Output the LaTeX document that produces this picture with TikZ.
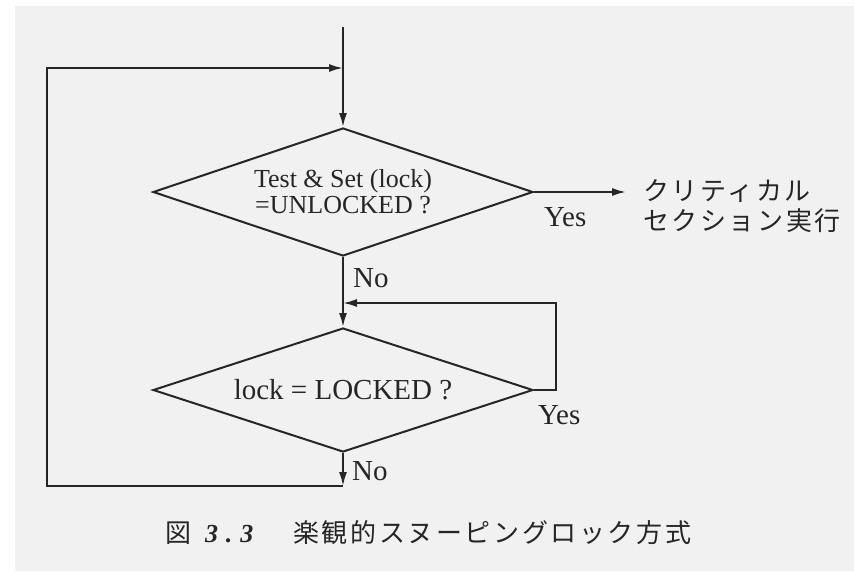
\documentclass[tikz,border=0pt]{standalone}
\usepackage{fontspec}
\setmainfont{Liberation Serif}
\newfontfamily\jpfont{Noto Sans CJK JP}[LetterSpace=10]
\usetikzlibrary{shapes.geometric, arrows.meta, positioning}
\definecolor{page}{RGB}{241,241,241}
\definecolor{ink}{RGB}{38,38,38}

\begin{document}
\begin{tikzpicture}[x=1pt, y=-1pt,
    flow/.style={draw=ink, line width=2pt},
    arr/.style={flow, -{Latex[length=14pt,width=8pt]}},
    decision/.style={diamond, aspect=3, draw=ink, line width=2pt, minimum width=380pt,
                     minimum height=128pt, inner sep=0pt, align=center, text=ink},
    lbl/.style={inner sep=0pt, text=ink, font=\fontsize{29}{29}\selectfont}]
  \useasboundingbox (0,0) rectangle (854,571);
  \fill[white] (0,0) rectangle (854,571);
  \fill[page] (15,6) rectangle (854,571);

  \node[decision, font=\fontsize{26}{26}\selectfont] (test) at (343,192) {Test \& Set (lock)\\=UNLOCKED ?};
  \node[decision, minimum height=124pt, font=\fontsize{29}{29}\selectfont] (check) at (343,390) {lock = LOCKED ?};

  \coordinate (entry) at (343,27);
  \coordinate (join1) at (343,68);
  \coordinate (yesend) at (626,192);
  \coordinate (join2) at (343,303);
  \coordinate (spin) at (556,303);
  \coordinate (bottom) at (343,486);
  \coordinate (cornertop) at (47,68);

  \draw[flow] (entry) -- (join1);
  \draw[arr] (join1) -- (test.north);
  \draw[arr] (test.east) -- (yesend);
  \draw[arr] (test.south) -- (check.north);
  \draw[arr] (check.east) -| (spin) -- (join2);
  \draw[arr] (check.south) -- (bottom);
  \draw[arr] (bottom) -| (cornertop) -- (join1);

  \node[lbl, below right=11pt and 10pt of test.south] (no1) {No};
  \node[lbl, below right=8pt and 9pt of check.south] (no2) {No};
  \node[lbl, below right=15pt and 10pt of test.east] (yes1) {Yes};
  \node[lbl, below right=15pt and 4pt of check.east] (yes2) {Yes};
  \node[inner sep=0pt, text=ink, font=\jpfont\fontsize{26}{30}\selectfont, align=left,
        right=17pt of yesend, yshift=-14pt] (crit) {クリティカル\\セクション実行};

  \node[anchor=west, inner sep=0pt, text=ink, font=\fontsize{26}{26}\selectfont] (caption) at (165,533)
    {{\jpfont 図}\hspace{14pt}{\bfseries\itshape\addfontfeature{LetterSpace=30}3.3}\hspace{40pt}{\jpfont 楽観的スヌーピングロック方式}};
\end{tikzpicture}
\end{document}
